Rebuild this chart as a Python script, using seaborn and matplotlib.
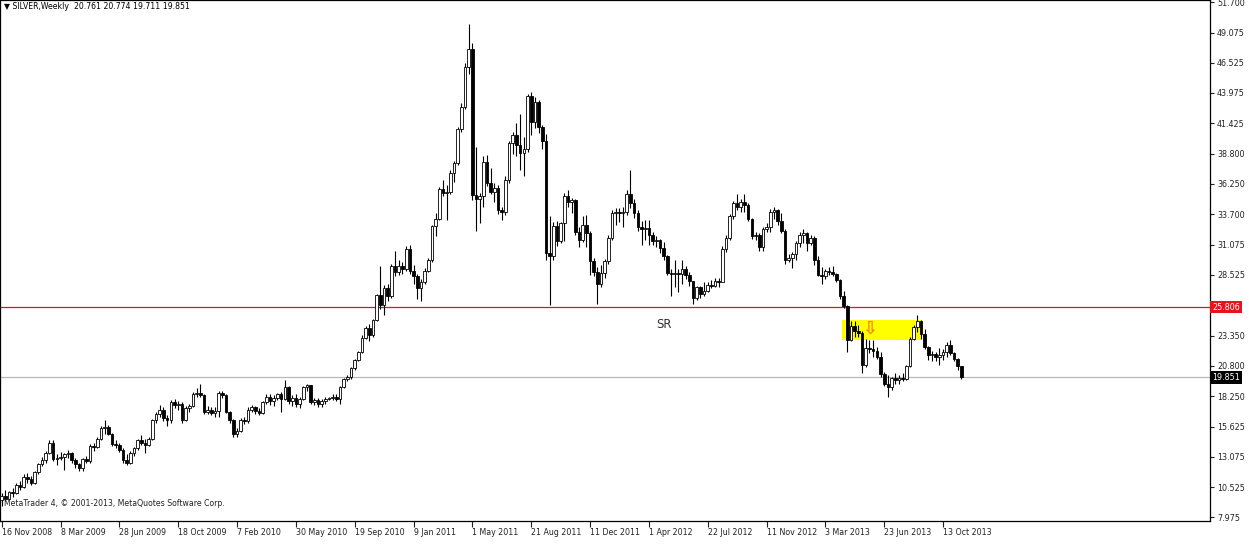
import matplotlib
matplotlib.use('Agg')
import matplotlib.pyplot as plt
import matplotlib.transforms as mtransforms
import seaborn as sns
import pandas as pd
import numpy as np

# weekly bars, first bar = week of 16 Nov 2008
first_week = '2008-11-16'

opens = [
    9.4, 9.8, 9.5, 10.1, 10.0, 10.7, 10.5, 11.4, 11.2, 10.9,
    11.8, 12.5, 12.8, 13.4, 14.3, 12.9, 13.0, 13.1, 13.3, 13.4,
    12.8, 12.5, 12.1, 12.9, 12.7, 14.0, 13.9, 14.6, 15.5, 15.6,
    15.0, 14.2, 14.1, 13.7, 12.8, 12.6, 13.4, 13.8, 14.5, 14.3,
    14.1, 14.6, 16.2, 16.7, 17.1, 16.4, 16.2, 17.7, 17.5, 17.6,
    16.2, 17.2, 17.4, 18.4, 18.5, 18.3, 16.9, 17.1, 16.8, 17.0,
    18.5, 18.3, 16.9, 16.2, 15.0, 15.3, 16.2, 16.1, 17.1, 17.3,
    17.0, 16.8, 17.7, 18.2, 17.8, 18.1, 18.4, 18.0, 19.0, 17.8,
    18.1, 17.6, 18.0, 19.0, 19.2, 17.7, 17.9, 17.6, 17.8, 18.0,
    18.1, 18.2, 18.0, 19.0, 19.7, 19.9, 20.6, 21.3, 22.0, 23.2,
    24.0, 23.4, 24.7, 26.8, 26.0, 27.4, 26.7, 29.3, 28.8, 29.3,
    29.0, 30.7, 28.9, 28.4, 27.4, 27.9, 28.9, 29.8, 32.7, 33.3,
    35.8, 35.5, 35.6, 37.2, 38.0, 40.9, 42.8, 46.2, 47.7, 35.3,
    35.0, 35.2, 38.1, 36.3, 35.6, 35.9, 34.0, 33.9, 36.6, 39.7,
    40.4, 39.6, 38.9, 39.2, 43.7, 41.5, 43.2, 41.1, 39.9, 30.4,
    30.1, 32.7, 31.4, 32.9, 35.2, 34.7, 34.9, 32.2, 31.5, 32.8,
    32.1, 29.7, 28.8, 27.8, 28.7, 29.7, 31.7, 33.8, 33.9, 33.8,
    33.9, 35.4, 34.6, 33.8, 32.6, 32.4, 32.5, 31.9, 31.4, 31.5,
    30.8, 30.1, 28.7, 28.6, 28.7, 28.6, 29.0, 28.5, 28.0, 26.6,
    27.5, 26.9, 27.2, 27.7, 27.6, 28.0, 27.9, 30.7, 31.7, 33.5,
    34.6, 34.3, 34.7, 34.5, 33.3, 31.8, 31.9, 30.9, 32.4, 32.6,
    33.9, 34.0, 33.1, 32.3, 29.8, 30.0, 30.3, 31.2, 31.9, 32.1,
    31.2, 31.7, 29.8, 28.5, 28.4, 28.9, 28.8, 28.6, 28.1, 26.7,
    25.9, 23.0, 24.2, 23.8, 23.6, 20.9, 22.3, 22.2, 22.1, 21.6,
    20.1, 19.3, 19.0, 19.8, 19.6, 19.8, 19.7, 20.8, 23.1, 24.1,
    24.6, 23.5, 22.4, 21.7, 21.8, 21.6, 21.7, 22.0, 22.6, 21.9,
    21.4, 20.761,
]
highs = [
    10.0, 10.3, 10.2, 10.4, 10.9, 11.0, 11.6, 11.7, 11.5, 11.9,
    12.6, 13.1, 13.6, 14.5, 14.5, 13.3, 13.5, 13.4, 13.7, 13.5,
    13.0, 12.6, 13.0, 13.2, 14.2, 14.3, 14.8, 15.7, 16.2, 15.8,
    15.1, 14.5, 14.3, 13.8, 13.3, 13.6, 13.9, 14.6, 14.9, 14.6,
    14.8, 16.3, 16.9, 17.5, 17.3, 16.6, 17.9, 18.0, 17.8, 17.7,
    17.4, 17.6, 18.6, 18.9, 19.3, 18.4, 17.4, 17.3, 17.3, 18.7,
    18.7, 18.4, 17.0, 16.3, 15.5, 16.4, 16.5, 17.3, 17.5, 17.4,
    17.2, 17.8, 18.4, 18.4, 18.3, 18.5, 18.6, 19.6, 19.1, 18.3,
    18.4, 18.2, 19.1, 19.3, 19.2, 18.1, 18.1, 18.0, 18.2, 18.2,
    18.4, 18.4, 19.1, 19.8, 20.0, 20.7, 21.4, 22.1, 23.4, 24.2,
    24.4, 24.8, 26.9, 29.3, 27.7, 27.8, 29.5, 30.6, 29.8, 29.6,
    31.0, 31.1, 29.4, 28.6, 28.2, 29.1, 30.0, 32.8, 33.8, 36.0,
    36.6, 36.2, 37.4, 38.2, 41.1, 43.1, 46.5, 49.8, 48.2, 39.4,
    35.5, 38.6, 38.7, 37.6, 36.3, 36.2, 34.3, 36.9, 39.9, 40.7,
    41.4, 42.2, 40.2, 43.9, 44.1, 43.6, 43.4, 41.3, 40.5, 33.5,
    33.0, 33.1, 33.0, 35.5, 35.7, 35.1, 35.0, 32.6, 33.5, 33.6,
    32.3, 30.0, 29.2, 29.4, 29.9, 31.9, 34.0, 34.2, 34.2, 34.3,
    35.7, 37.4, 35.0, 34.0, 33.1, 33.2, 33.2, 32.2, 31.8, 31.6,
    31.3, 30.2, 29.0, 29.8, 29.0, 29.8, 29.3, 28.8, 28.0, 27.6,
    27.6, 27.9, 27.9, 28.1, 28.3, 28.3, 31.0, 31.9, 33.7, 34.8,
    35.4, 35.0, 35.4, 34.6, 33.4, 32.2, 32.1, 32.6, 32.9, 34.1,
    34.3, 34.1, 33.8, 32.4, 30.3, 30.5, 31.4, 32.2, 32.4, 32.2,
    31.9, 31.8, 30.1, 29.2, 29.0, 29.2, 29.3, 28.7, 28.2, 27.2,
    26.0, 24.6, 24.6, 24.3, 23.8, 23.1, 23.0, 23.0, 22.4, 22.0,
    20.3, 20.0, 19.9, 20.2, 20.0, 20.2, 20.9, 23.3, 24.3, 25.1,
    24.7, 23.9, 22.5, 22.1, 22.0, 22.3, 22.2, 22.8, 23.0, 22.0,
    21.5, 20.774,
]
lows = [
    8.9, 9.3, 9.4, 9.7, 9.9, 10.3, 10.4, 10.9, 10.7, 10.8,
    11.6, 12.3, 12.6, 13.3, 12.7, 12.4, 12.8, 12.0, 13.0, 12.6,
    12.1, 11.9, 11.9, 12.6, 12.6, 13.6, 13.8, 14.5, 15.0, 14.9,
    14.0, 13.8, 13.5, 12.6, 12.4, 12.5, 13.2, 13.7, 14.1, 13.4,
    14.0, 14.5, 16.0, 16.5, 16.1, 15.7, 16.0, 17.2, 17.1, 16.0,
    16.1, 16.9, 17.3, 18.2, 18.2, 16.7, 16.7, 16.6, 16.5, 16.5,
    18.1, 16.8, 16.0, 14.8, 14.8, 15.2, 15.9, 16.0, 16.9, 16.7,
    16.6, 16.7, 17.6, 17.5, 17.4, 17.9, 16.9, 17.9, 17.6, 17.4,
    17.3, 17.2, 17.9, 18.7, 17.6, 17.5, 17.3, 17.3, 17.6, 17.9,
    17.9, 17.8, 17.6, 18.9, 19.5, 19.7, 20.5, 21.2, 21.9, 23.1,
    22.9, 23.3, 24.6, 25.6, 25.1, 26.3, 26.6, 28.4, 28.5, 28.6,
    28.9, 28.6, 27.8, 26.5, 26.3, 27.8, 28.8, 29.6, 31.8, 33.2,
    35.2, 33.2, 35.4, 36.4, 37.9, 40.7, 42.6, 45.6, 34.9, 32.3,
    32.9, 34.3, 36.1, 35.4, 34.7, 33.7, 33.2, 33.6, 36.3, 38.8,
    38.6, 37.4, 36.9, 39.0, 40.4, 41.0, 40.6, 39.2, 29.8, 26.0,
    29.8, 31.0, 31.2, 31.4, 34.3, 33.8, 31.9, 30.9, 31.3, 30.9,
    28.5, 28.4, 26.1, 27.5, 28.3, 29.5, 31.5, 32.8, 33.0, 32.6,
    33.6, 34.2, 33.4, 32.3, 31.1, 31.5, 31.1, 31.1, 30.9, 30.4,
    29.8, 28.5, 26.7, 27.5, 27.1, 27.8, 28.2, 27.6, 26.1, 26.4,
    26.6, 26.7, 27.1, 27.4, 27.5, 27.5, 27.9, 30.5, 31.5, 33.3,
    34.0, 33.9, 33.9, 33.1, 31.6, 31.5, 30.6, 30.6, 32.2, 32.2,
    33.3, 32.8, 32.1, 29.5, 29.6, 29.1, 29.8, 30.9, 31.2, 30.6,
    31.1, 29.4, 28.4, 27.8, 28.2, 28.5, 28.4, 27.9, 26.5, 25.7,
    22.0, 22.9, 23.3, 23.3, 20.2, 20.7, 21.9, 21.6, 21.4, 19.9,
    19.1, 18.2, 18.8, 19.3, 19.3, 19.5, 19.6, 20.7, 23.0, 23.7,
    23.1, 22.2, 21.3, 21.2, 21.2, 20.9, 21.3, 21.6, 21.7, 21.2,
    20.5, 19.711,
]
closes = [
    9.8, 9.5, 10.1, 10.0, 10.7, 10.5, 11.4, 11.2, 10.9, 11.8,
    12.5, 12.8, 13.4, 14.3, 12.9, 13.0, 13.1, 13.3, 13.4, 12.8,
    12.5, 12.1, 12.9, 12.7, 14.0, 13.9, 14.6, 15.5, 15.6, 15.0,
    14.2, 14.1, 13.7, 12.8, 12.6, 13.4, 13.8, 14.5, 14.3, 14.1,
    14.6, 16.2, 16.7, 17.1, 16.4, 16.2, 17.7, 17.5, 17.6, 16.2,
    17.2, 17.4, 18.4, 18.5, 18.3, 16.9, 17.1, 16.8, 17.0, 18.5,
    18.3, 16.9, 16.2, 15.0, 15.3, 16.2, 16.1, 17.1, 17.3, 17.0,
    16.8, 17.7, 18.2, 17.8, 18.1, 18.4, 18.0, 19.0, 17.8, 18.1,
    17.6, 18.0, 19.0, 19.2, 17.7, 17.9, 17.6, 17.8, 18.0, 18.1,
    18.2, 18.0, 19.0, 19.7, 19.9, 20.6, 21.3, 22.0, 23.2, 24.0,
    23.4, 24.7, 26.8, 26.0, 27.4, 26.7, 29.3, 28.8, 29.3, 29.0,
    30.7, 28.9, 28.4, 27.4, 27.9, 28.9, 29.8, 32.7, 33.3, 35.8,
    35.5, 35.6, 37.2, 38.0, 40.9, 42.8, 46.2, 47.7, 35.3, 35.0,
    35.2, 38.1, 36.3, 35.6, 35.9, 34.0, 33.9, 36.6, 39.7, 40.4,
    39.6, 38.9, 39.2, 43.7, 41.5, 43.2, 41.1, 39.9, 30.4, 30.1,
    32.7, 31.4, 32.9, 35.2, 34.7, 34.9, 32.2, 31.5, 32.8, 32.1,
    29.7, 28.8, 27.8, 28.7, 29.7, 31.7, 33.8, 33.9, 33.8, 33.9,
    35.4, 34.6, 33.8, 32.6, 32.4, 32.5, 31.9, 31.4, 31.5, 30.8,
    30.1, 28.7, 28.6, 28.7, 28.6, 29.0, 28.5, 28.0, 26.6, 27.5,
    26.9, 27.2, 27.7, 27.6, 28.0, 27.9, 30.7, 31.7, 33.5, 34.6,
    34.3, 34.7, 34.5, 33.3, 31.8, 31.9, 30.9, 32.4, 32.6, 33.9,
    34.0, 33.1, 32.3, 29.8, 30.0, 30.3, 31.2, 31.9, 32.1, 31.2,
    31.7, 29.8, 28.5, 28.4, 28.9, 28.8, 28.6, 28.1, 26.7, 25.9,
    23.0, 24.2, 23.8, 23.6, 20.9, 22.3, 22.2, 22.1, 21.6, 20.1,
    19.3, 19.0, 19.8, 19.6, 19.8, 19.7, 20.8, 23.1, 24.1, 24.6,
    23.5, 22.4, 21.7, 21.8, 21.6, 21.7, 22.0, 22.6, 21.9, 21.4,
    20.761, 19.851,
]

date_labels = ['16 Nov 2008', '8 Mar 2009', '28 Jun 2009', '18 Oct 2009', '7 Feb 2010',
               '30 May 2010', '19 Sep 2010', '9 Jan 2011', '1 May 2011', '21 Aug 2011',
               '11 Dec 2011', '1 Apr 2012', '22 Jul 2012', '11 Nov 2012', '3 Mar 2013',
               '23 Jun 2013', '13 Oct 2013']
price_ticks = [51.700, 49.075, 46.525, 43.975, 41.425, 38.800, 36.250, 33.700, 31.075,
               28.525, 23.350, 20.800, 18.250, 15.625, 13.075, 10.525, 7.975]
sr_level = 25.806
last_price = 19.851
# resistance zone (week range and price range)
zone_weeks = ('2013-04-04', '2013-09-02')
zone_prices = (23.0, 24.7)
arrow_week = '2013-05-26'
arrow_price = 23.95
sr_label_week = '2012-04-29'
sr_label_price = 24.3

header = '\u25bc SILVER,Weekly  20.761 20.774 19.711 19.851'
footer = 'MetaTrader 4, \u00a9 2001-2013, MetaQuotes Software Corp.'

sns.set_theme(style="white")
plt.rcParams['font.family'] = ['DejaVu Sans']

df = pd.DataFrame({'open': opens, 'high': highs, 'low': lows, 'close': closes})
df['week'] = pd.date_range(first_week, periods=len(df), freq='7D')
df['bar'] = np.arange(len(df))
up = df['close'] >= df['open']


def week_pos(d):
    # fractional bar position of a date
    return (pd.Timestamp(d) - df['week'].iloc[0]).days / 7.0


W, H = 1249, 545
fig = plt.figure(figsize=(W / 100, H / 100), dpi=100)
ax = fig.add_axes([0.0, 24 / H, 1210 / W, 521 / H])

# zone behind the candles
ax.fill_between([week_pos(zone_weeks[0]), week_pos(zone_weeks[1])], zone_prices[0], zone_prices[1],
                color='#ffff00', lw=0, zorder=1)

ax.axhline(sr_level, color='#cc1f1f', lw=0.9, zorder=1.5)
ax.axhline(last_price, color='#b8b8b8', lw=0.9, zorder=1.5)

ax.vlines(df['bar'], df['low'], df['high'], color='black', lw=0.8, zorder=2)
bottoms = df[['open', 'close']].min(axis=1)
heights = (df['close'] - df['open']).abs().clip(lower=0.05)
ax.bar(df['bar'][up], heights[up], bottom=bottoms[up], width=0.72,
       color='white', edgecolor='black', linewidth=0.6, zorder=3)
ax.bar(df['bar'][~up], heights[~up], bottom=bottoms[~up], width=0.72,
       color='black', edgecolor='black', linewidth=0.6, zorder=3)

ax.text(week_pos(arrow_week), arrow_price, '\u21e9', color='#ff7f00', fontsize=13,
        fontweight='bold', ha='center', va='center', zorder=4)
ax.text(week_pos(sr_label_week), sr_label_price, 'SR', color='#333333', fontsize=8.5,
        ha='center', va='center', zorder=4)

ax.set_xlim(-0.46, 328.6)
ax.set_ylim(7.64, 51.87)

# x axis: date labels at their weeks, text to the right of the tick
tick_pos = [week_pos(pd.to_datetime(s, format='%d %b %Y')) for s in date_labels]
ax.set_xticks(tick_pos)
ax.set_xticklabels(date_labels, ha='left', fontsize=5.7, color='#222222')
offset = mtransforms.ScaledTranslation(2 / 100, 0, fig.dpi_scale_trans)
for lab in ax.get_xticklabels():
    lab.set_transform(lab.get_transform() + offset)
ax.tick_params(axis='x', direction='out', length=4, width=0.8, pad=1, bottom=True, colors='#222222')

ax.yaxis.tick_right()
ax.set_yticks(price_ticks)
ax.set_yticklabels([f'{v:.3f}' for v in price_ticks], fontsize=5.8, color='#222222')
ax.tick_params(axis='y', direction='out', length=3, width=0.8, pad=2, right=True, colors='#222222')

for s in ax.spines.values():
    s.set_color('black')
    s.set_linewidth(0.9)

# price labels on the right scale
yside = mtransforms.blended_transform_factory(ax.transAxes, ax.transData)
ax.text(1.002, sr_level, f'{sr_level:.3f}', transform=yside, fontsize=5.8, color='white',
        ha='left', va='center', clip_on=False,
        bbox=dict(facecolor='#e8141c', edgecolor='none', pad=1.4))
ax.text(1.002, last_price, f'{last_price:.3f}', transform=yside, fontsize=5.8, color='white',
        ha='left', va='center', clip_on=False,
        bbox=dict(facecolor='black', edgecolor='none', pad=1.4))

ax.text(0.003, 0.988, header, transform=ax.transAxes, fontsize=5.6, color='black',
        ha='left', va='center')
ax.text(0.003, 0.034, footer, transform=ax.transAxes, fontsize=5.6, color='#222222',
        ha='left', va='center')

fig.savefig('out.png', dpi=100, facecolor='white')
